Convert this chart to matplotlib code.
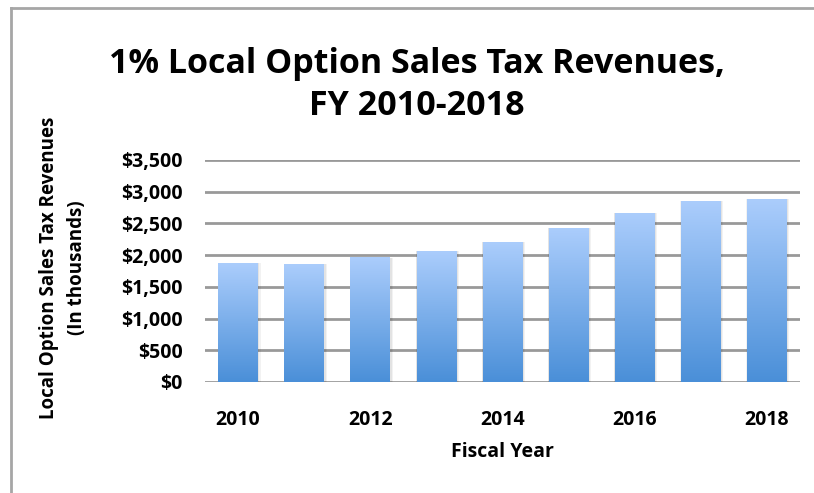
import numpy as np
import matplotlib
matplotlib.use("Agg")
import matplotlib.pyplot as plt
from matplotlib.colors import LinearSegmentedColormap
from matplotlib.lines import Line2D

# revenue by fiscal year, in thousands of dollars
years = [2010, 2011, 2012, 2013, 2014, 2015, 2016, 2017, 2018]
revenue = [1874, 1858, 1958, 2063, 2205, 2426, 2663, 2853, 2884]
y_ticks = [0, 500, 1000, 1500, 2000, 2500, 3000, 3500]

plt.rcParams["font.family"] = ["Open Sans", "DejaVu Sans"]
plt.rcParams["font.weight"] = "bold"

W, H = 814, 493
fig = plt.figure(figsize=(W / 100, H / 100), dpi=100)
ax = fig.add_axes([205 / W, 1 - 382 / H, 595 / W, 222 / H])

x = np.arange(len(years))
bars = ax.bar(x, revenue, width=0.6, color="none", zorder=3)

# vertical gradient fill for each bar
cmap = LinearSegmentedColormap.from_list("barfill", ["#4a8fd8", "#abcdfc"])
grad = np.linspace(0, 1, 256).reshape(-1, 1)
for b in bars:
    x0, w, h = b.get_x(), b.get_width(), b.get_height()
    # soft shadow around the bar
    for k, a in [(0.05, 0.05), (0.03, 0.06)]:
        ax.bar(x0 + w / 2 + k * 0.3, h, width=w + k, color="#000000",
               alpha=a, zorder=2.5)
    ax.imshow(grad, cmap=cmap, aspect="auto", origin="lower",
              extent=[x0, x0 + w, 0, h], zorder=3)

ax.set_xlim(-0.5, len(years) - 0.5)
ax.set_ylim(0, 3500)

ax.set_yticks(y_ticks)
ax.set_yticklabels(["${:,}".format(v) for v in y_ticks])
ax.set_xticks(x[::2])
ax.set_xticklabels([str(y) for y in years[::2]])

ax.grid(axis="y", color="#999999", linewidth=2, zorder=1)
ax.tick_params(axis="y", length=0, pad=16, labelsize=14)
ax.tick_params(axis="x", length=0, pad=20, labelsize=14)
for s in ax.spines.values():
    s.set_visible(False)

ax.set_xlabel("Fiscal Year", fontsize=14, fontweight="bold", va="center")
ax.xaxis.set_label_coords(0.5, -(452 - 382) / 222)

# two-line y axis title
fig.text(49 / W, 1 - 268 / H, "Local Option Sales Tax Revenues", rotation=90,
         ha="center", va="center", fontsize=13.5, fontweight="bold")
fig.text(77 / W, 1 - 268 / H, "(In thousands)", rotation=90,
         ha="center", va="center", fontsize=13.5, fontweight="bold")

fig.text(417 / W, 1 - 85 / H, "1% Local Option Sales Tax Revenues,\nFY 2010-2018",
         ha="center", va="center", fontsize=24.5, fontweight="bold",
         linespacing=1.32)

# chart frame
fig.add_artist(Line2D([11 / W, 1], [1 - 8 / H] * 2, color="#a6a6a6",
                      linewidth=2, transform=fig.transFigure))
fig.add_artist(Line2D([11 / W] * 2, [0, 1 - 8 / H], color="#a6a6a6",
                      linewidth=2, transform=fig.transFigure))

fig.savefig("out.png", dpi=100)
